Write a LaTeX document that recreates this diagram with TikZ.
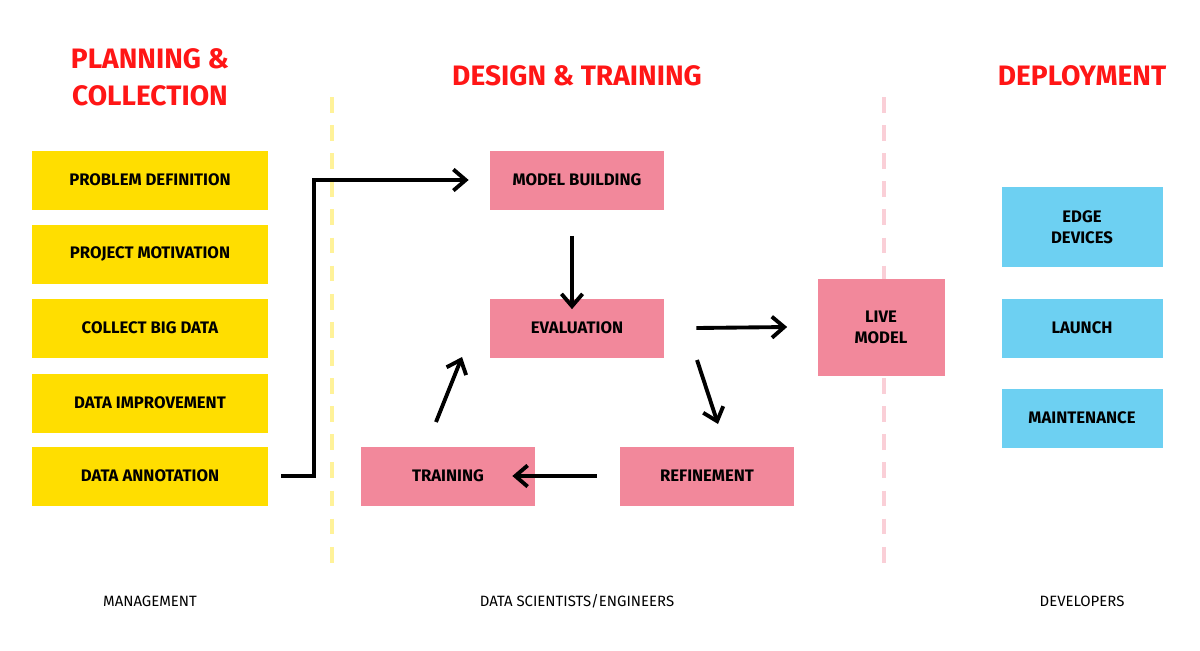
\documentclass[tikz,border=0pt]{standalone}
\usepackage{fontspec}
\setmainfont{Fira Sans}
\usetikzlibrary{arrows.meta}
\definecolor{plan}{HTML}{FFDE00}
\definecolor{design}{HTML}{F2889B}
\definecolor{deploy}{HTML}{6DD0F2}
\definecolor{titlered}{HTML}{FF1616}
\tikzset{
  box/.style={minimum height=59\pxu, inner sep=0pt, align=center,
    font=\fontsize{9.5}{12}\selectfont\bfseries},
  planbox/.style={box, fill=plan, minimum width=236\pxu},
  designbox/.style={box, fill=design, minimum width=174\pxu},
  deploybox/.style={box, fill=deploy, minimum width=161\pxu},
  phase/.style={text=titlered, align=center, font=\fontsize{16}{21}\selectfont\bfseries},
  role/.style={font=\fontsize{8.5}{10}\selectfont},
  flow/.style={line width=2.2pt, -{Straight Barb[length=7pt,width=12pt,line width=2.2pt]}}
}
\newlength{\pxu}\setlength{\pxu}{0.02cm}
\begin{document}
\begin{tikzpicture}[x=0.02cm,y=-0.02cm]
\useasboundingbox (0,0) rectangle (1200,650);
% phases
\node[phase] (tplan) at (150,77) {PLANNING \&\\COLLECTION};
\node[phase] (tdesign) at (577,76) {DESIGN \& TRAINING};
\node[phase] (tdeploy) at (1082,76) {DEPLOYMENT};
\draw[plan!40, line width=2pt, dash pattern=on 9pt off 7pt] (332,97) -- (332,572);
\draw[design!40, line width=2pt, dash pattern=on 9pt off 7pt] (884,97) -- (884,572);
% planning
\node[planbox] (problem) at (150,180) {PROBLEM DEFINITION};
\node[planbox] (motivation) at (150,254) {PROJECT MOTIVATION};
\node[planbox] (collect) at (150,328) {COLLECT BIG DATA};
\node[planbox] (improve) at (150,403) {DATA IMPROVEMENT};
\node[planbox] (annotate) at (150,476) {DATA ANNOTATION};
% design
\node[designbox] (building) at (577,180) {MODEL BUILDING};
\node[designbox] (evaluation) at (577,328) {EVALUATION};
\node[designbox] (training) at (448,476) {TRAINING};
\node[designbox] (refinement) at (707,476) {REFINEMENT};
\node[designbox, minimum width=127\pxu, minimum height=97\pxu] (live) at (881,327) {LIVE\\MODEL};
% deployment
\node[deploybox, minimum height=80\pxu] (edge) at (1082,227) {EDGE\\DEVICES};
\node[deploybox] (launch) at (1082,328) {LAUNCH};
\node[deploybox] (maint) at (1082,418) {MAINTENANCE};
% roles
\node[role] (mgmt) at (150,601) {MANAGEMENT};
\node[role] (sci) at (577,601) {DATA SCIENTISTS/ENGINEERS};
\node[role] (dev) at (1082,601) {DEVELOPERS};
% arrows
\draw[flow] ([xshift=13\pxu]annotate.east) -- ++(33,0) |- ([xshift=-21\pxu]building.west);
\draw[flow] ([xshift=-5\pxu,yshift=-26\pxu]building.south) -- ([xshift=-5\pxu,yshift=-11\pxu]building.south |- evaluation.north);
\draw[flow] ([xshift=32\pxu]evaluation.east) -- ([xshift=-30\pxu]live.west);
\draw[flow] (697,360) -- (718,424);
\draw[flow] ([xshift=-23\pxu]refinement.west) -- ([xshift=-23\pxu]training.east);
\draw[flow] (436,422) -- (462,357);
\end{tikzpicture}
\end{document}
